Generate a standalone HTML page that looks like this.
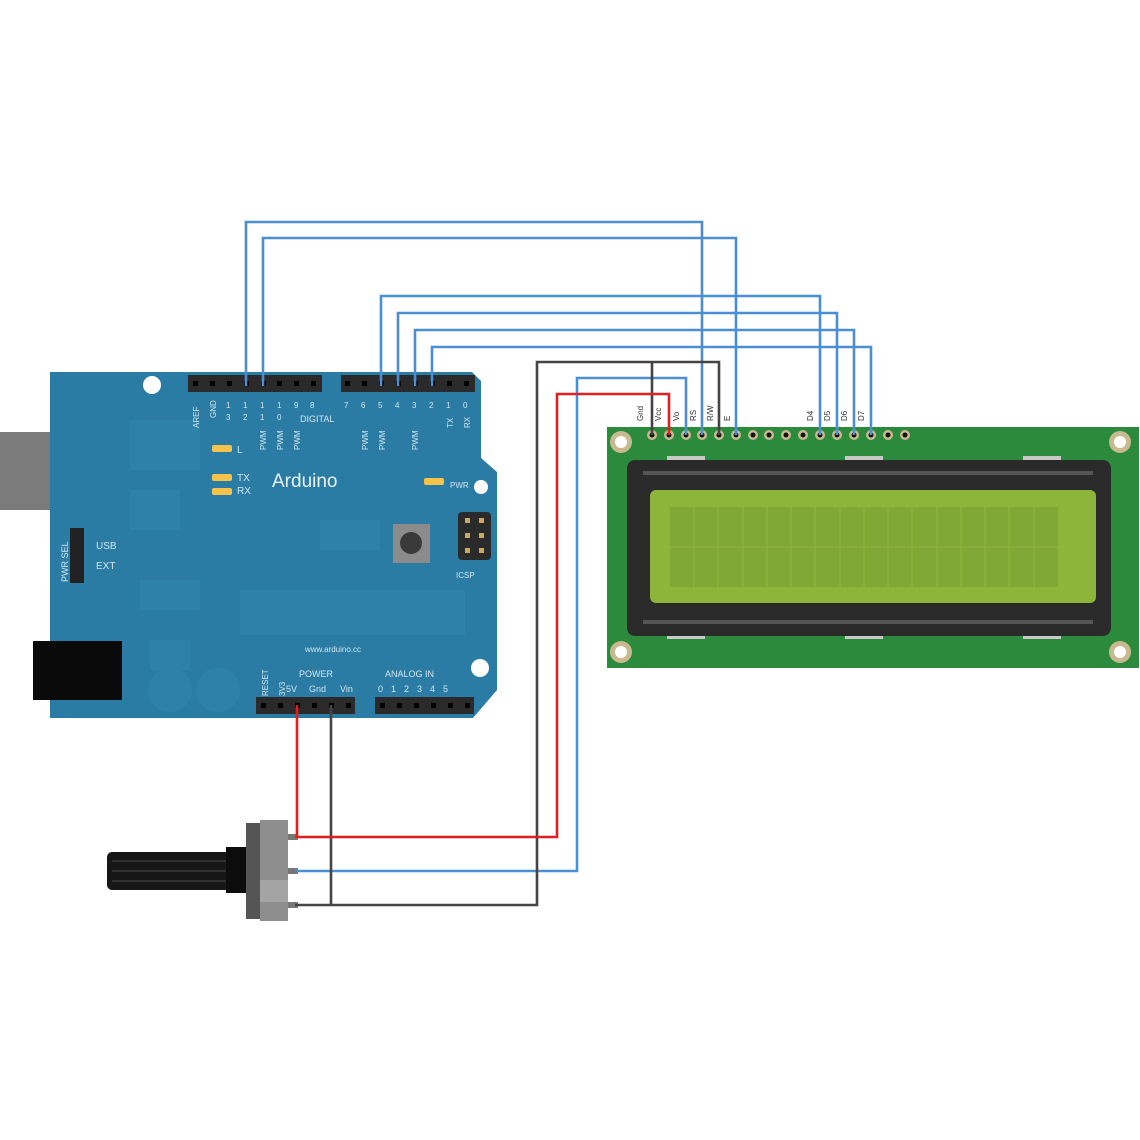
<!DOCTYPE html>
<html><head><meta charset="utf-8"><style>
html,body{margin:0;padding:0;background:#fff;}
svg{display:block;font-family:"Liberation Sans",sans-serif;}
</style></head><body>
<svg width="1140" height="1140" viewBox="0 0 1140 1140" xmlns="http://www.w3.org/2000/svg">
<rect width="1140" height="1140" fill="#fff"/>
<!-- USB -->
<rect x="0" y="432" width="108" height="78" fill="#7b7b7b"/>
<!-- Arduino board -->
<path d="M50,372 H472 L481,381 V458 L497,472 V690 L473,718 H50 Z" fill="#2a7ca4"/>
<g fill="#2f83ab" opacity="0.9">
<rect x="130" y="420" width="70" height="50"/><rect x="240" y="590" width="225" height="45"/>
<rect x="140" y="580" width="60" height="30"/><rect x="150" y="640" width="40" height="30"/>
<circle cx="170" cy="690" r="22"/><circle cx="218" cy="690" r="22"/>
<rect x="320" y="520" width="60" height="30"/><rect x="130" y="490" width="50" height="40"/>
</g>
<rect x="33" y="641" width="89" height="59" fill="#0a0a0a"/>
<circle cx="152" cy="385" r="9" fill="#fff"/>
<circle cx="481" cy="487" r="7" fill="#fff"/>
<circle cx="480" cy="668" r="9" fill="#fff"/>
<!-- headers -->
<g fill="#2a2a2a">
<rect x="188" y="375" width="134" height="17"/><rect x="341" y="375" width="134" height="17"/>
<rect x="256" y="697" width="99" height="17"/><rect x="375" y="697" width="99" height="17"/>
</g>
<g fill="#000">
<rect x="193" y="381" width="5" height="5"/><rect x="210" y="381" width="5" height="5"/><rect x="227" y="381" width="5" height="5"/><rect x="244" y="381" width="5" height="5"/><rect x="261" y="381" width="5" height="5"/><rect x="277" y="381" width="5" height="5"/><rect x="294" y="381" width="5" height="5"/><rect x="311" y="381" width="5" height="5"/>
<rect x="345" y="381" width="5" height="5"/><rect x="362" y="381" width="5" height="5"/><rect x="379" y="381" width="5" height="5"/><rect x="396" y="381" width="5" height="5"/><rect x="413" y="381" width="5" height="5"/><rect x="430" y="381" width="5" height="5"/><rect x="447" y="381" width="5" height="5"/><rect x="464" y="381" width="5" height="5"/>
<rect x="261" y="703" width="5" height="5"/><rect x="278" y="703" width="5" height="5"/><rect x="295" y="703" width="5" height="5"/><rect x="312" y="703" width="5" height="5"/><rect x="329" y="703" width="5" height="5"/><rect x="346" y="703" width="5" height="5"/>
<rect x="380" y="703" width="5" height="5"/><rect x="397" y="703" width="5" height="5"/><rect x="414" y="703" width="5" height="5"/><rect x="431" y="703" width="5" height="5"/><rect x="448" y="703" width="5" height="5"/><rect x="465" y="703" width="5" height="5"/>
</g>
<!-- board labels -->
<g fill="#d4e6ef" font-size="8">
<text transform="translate(199,428) rotate(-90)">AREF</text>
<text transform="translate(216,418) rotate(-90)">GND</text>
<text x="226" y="408">1</text><text x="243" y="408">1</text><text x="260" y="408">1</text><text x="277" y="408">1</text><text x="294" y="408">9</text><text x="310" y="408">8</text>
<text x="226" y="420">3</text><text x="243" y="420">2</text><text x="260" y="420">1</text><text x="277" y="420">0</text>
<text x="300" y="422" font-size="9">DIGITAL</text>
<text transform="translate(266,450) rotate(-90)">PWM</text><text transform="translate(283,450) rotate(-90)">PWM</text><text transform="translate(300,450) rotate(-90)">PWM</text>
<text x="344" y="408">7</text><text x="361" y="408">6</text><text x="378" y="408">5</text><text x="395" y="408">4</text><text x="412" y="408">3</text><text x="429" y="408">2</text><text x="446" y="408">1</text><text x="463" y="408">0</text>
<text transform="translate(368,450) rotate(-90)">PWM</text><text transform="translate(385,450) rotate(-90)">PWM</text><text transform="translate(418,450) rotate(-90)">PWM</text>
<text transform="translate(453,428) rotate(-90)">TX</text><text transform="translate(470,428) rotate(-90)">RX</text>
<text x="237" y="453" font-size="10">L</text>
<text x="237" y="481" font-size="10">TX</text><text x="237" y="494" font-size="10">RX</text>
<text x="450" y="488" font-size="8">PWR</text>
<text x="456" y="578" font-size="8">ICSP</text>
<text x="96" y="549" font-size="10">USB</text><text x="96" y="569" font-size="10">EXT</text>
<text transform="translate(68,582) rotate(-90)" font-size="9">PWR SEL</text>
<text x="305" y="652" font-size="8">www.arduino.cc</text>
<text transform="translate(268,696) rotate(-90)">RESET</text>
<text transform="translate(285,696) rotate(-90)">3V3</text>
<text x="299" y="677" font-size="9">POWER</text>
<text x="286" y="692" font-size="9">5V</text><text x="309" y="692" font-size="9">Gnd</text><text x="340" y="692" font-size="9">Vin</text>
<text x="385" y="677" font-size="9">ANALOG IN</text>
<text x="378" y="692" font-size="9" letter-spacing="8">012345</text>
</g>
<text x="272" y="487" fill="#e8f2f7" font-size="19">Arduino</text>
<!-- LEDs -->
<g fill="#f5c24a">
<rect x="212" y="445" width="20" height="7" rx="2"/><rect x="212" y="474" width="20" height="7" rx="2"/><rect x="212" y="488" width="20" height="7" rx="2"/><rect x="424" y="478" width="20" height="7" rx="2"/>
</g>
<!-- jumper -->
<rect x="70" y="528" width="14" height="55" fill="#222"/>
<!-- reset button -->
<rect x="393" y="524" width="37" height="39" fill="#8b8b8b"/><circle cx="411" cy="543" r="11" fill="#3a3a3a"/>
<!-- ICSP -->
<rect x="458" y="512" width="33" height="48" rx="4" fill="#2a2a2a"/>
<g fill="#c9a860"><rect x="465" y="518" width="5" height="5"/><rect x="479" y="518" width="5" height="5"/><rect x="465" y="533" width="5" height="5"/><rect x="479" y="533" width="5" height="5"/><rect x="465" y="548" width="5" height="5"/><rect x="479" y="548" width="5" height="5"/></g>

<!-- LCD -->
<rect x="607" y="427" width="532" height="241" fill="#2b8a3c"/>
<g fill="#c8b990"><circle cx="621" cy="442" r="11"/><circle cx="1120" cy="442" r="11"/><circle cx="621" cy="652" r="11"/><circle cx="1120" cy="652" r="11"/></g>
<g fill="#fff"><circle cx="621" cy="442" r="6"/><circle cx="1120" cy="442" r="6"/><circle cx="621" cy="652" r="6"/><circle cx="1120" cy="652" r="6"/></g>
<g fill="#c8c8c8"><rect x="667" y="456" width="38" height="4"/><rect x="845" y="456" width="38" height="4"/><rect x="1023" y="456" width="38" height="4"/><rect x="667" y="635" width="38" height="4"/><rect x="845" y="635" width="38" height="4"/><rect x="1023" y="635" width="38" height="4"/></g>
<rect x="627" y="460" width="484" height="176" rx="8" fill="#2a2a2a"/>
<rect x="643" y="471" width="450" height="4" fill="#555"/>
<rect x="643" y="620" width="450" height="4" fill="#555"/>
<rect x="650" y="490" width="446" height="113" rx="6" fill="#8cb53a"/>
<rect x="670" y="507" width="388" height="80" fill="#80a836"/>
<g stroke="#8cb53a" stroke-width="1.2">
<line x1="670" y1="547" x2="1058" y2="547"/>
<line x1="694" y1="507" x2="694" y2="587"/><line x1="718" y1="507" x2="718" y2="587"/><line x1="743" y1="507" x2="743" y2="587"/><line x1="767" y1="507" x2="767" y2="587"/><line x1="791" y1="507" x2="791" y2="587"/><line x1="815" y1="507" x2="815" y2="587"/><line x1="840" y1="507" x2="840" y2="587"/><line x1="864" y1="507" x2="864" y2="587"/><line x1="888" y1="507" x2="888" y2="587"/><line x1="912" y1="507" x2="912" y2="587"/><line x1="937" y1="507" x2="937" y2="587"/><line x1="961" y1="507" x2="961" y2="587"/><line x1="985" y1="507" x2="985" y2="587"/><line x1="1009" y1="507" x2="1009" y2="587"/><line x1="1034" y1="507" x2="1034" y2="587"/>
</g>
<!-- LCD pins -->
<g fill="#c8b990">
<circle cx="652" cy="435" r="5"/><circle cx="669" cy="435" r="5"/><circle cx="686" cy="435" r="5"/><circle cx="702" cy="435" r="5"/><circle cx="719" cy="435" r="5"/><circle cx="736" cy="435" r="5"/><circle cx="753" cy="435" r="5"/><circle cx="769" cy="435" r="5"/><circle cx="786" cy="435" r="5"/><circle cx="803" cy="435" r="5"/><circle cx="820" cy="435" r="5"/><circle cx="837" cy="435" r="5"/><circle cx="854" cy="435" r="5"/><circle cx="871" cy="435" r="5"/><circle cx="888" cy="435" r="5"/><circle cx="905" cy="435" r="5"/>
</g>
<g fill="#111">
<circle cx="652" cy="435" r="2.5"/><circle cx="669" cy="435" r="2.5"/><circle cx="686" cy="435" r="2.5"/><circle cx="702" cy="435" r="2.5"/><circle cx="719" cy="435" r="2.5"/><circle cx="736" cy="435" r="2.5"/><circle cx="753" cy="435" r="2.5"/><circle cx="769" cy="435" r="2.5"/><circle cx="786" cy="435" r="2.5"/><circle cx="803" cy="435" r="2.5"/><circle cx="820" cy="435" r="2.5"/><circle cx="837" cy="435" r="2.5"/><circle cx="854" cy="435" r="2.5"/><circle cx="871" cy="435" r="2.5"/><circle cx="888" cy="435" r="2.5"/><circle cx="905" cy="435" r="2.5"/>
</g>
<g fill="#333" font-size="8">
<text transform="translate(643,421) rotate(-90)">Gnd</text>
<text transform="translate(661,421) rotate(-90)">Vcc</text>
<text transform="translate(679,421) rotate(-90)">Vo</text>
<text transform="translate(696,421) rotate(-90)">RS</text>
<text transform="translate(713,421) rotate(-90)">R/W</text>
<text transform="translate(730,421) rotate(-90)">E</text>
<text transform="translate(813,421) rotate(-90)">D4</text>
<text transform="translate(830,421) rotate(-90)">D5</text>
<text transform="translate(847,421) rotate(-90)">D6</text>
<text transform="translate(864,421) rotate(-90)">D7</text>
</g>

<!-- Potentiometer -->
<rect x="107" y="852" width="124" height="38" rx="5" fill="#161616"/>
<g stroke="#3a3a3a" stroke-width="1.5"><line x1="112" y1="861" x2="227" y2="861"/><line x1="112" y1="871" x2="227" y2="871"/><line x1="112" y1="881" x2="227" y2="881"/></g>
<rect x="226" y="847" width="22" height="46" fill="#0c0c0c"/>
<rect x="246" y="823" width="16" height="96" fill="#555"/>
<rect x="260" y="820" width="28" height="101" fill="#8e8e8e"/>
<rect x="260" y="880" width="28" height="22" fill="#a4a4a4"/>
<g fill="#777"><rect x="288" y="834" width="10" height="6"/><rect x="288" y="868" width="10" height="6"/><rect x="288" y="902" width="10" height="6"/></g>

<!-- Wires -->
<g fill="none" stroke-width="2.6" stroke-linejoin="miter">
<g stroke="#4a8fd6">
<polyline points="246,386 246,222 702,222 702,435"/>
<polyline points="263,386 263,238 736,238 736,435"/>
<polyline points="381,386 381,296 820,296 820,435"/>
<polyline points="398,386 398,313 837,313 837,435"/>
<polyline points="415,386 415,330 854,330 854,435"/>
<polyline points="432,386 432,347 871,347 871,435"/>
<polyline points="686,435 686,378 577,378 577,871 295,871"/>
</g>
<g stroke="#444">
<polyline points="652,435 652,362"/>
<polyline points="719,435 719,362 537,362 537,905 295,905"/>
<polyline points="331,705 331,905"/>
</g>
<g stroke="#e02020">
<polyline points="669,435 669,394 557,394 557,837 295,837"/>
<polyline points="297,705 297,837"/>
</g>
</g>
</svg>
</body></html>
